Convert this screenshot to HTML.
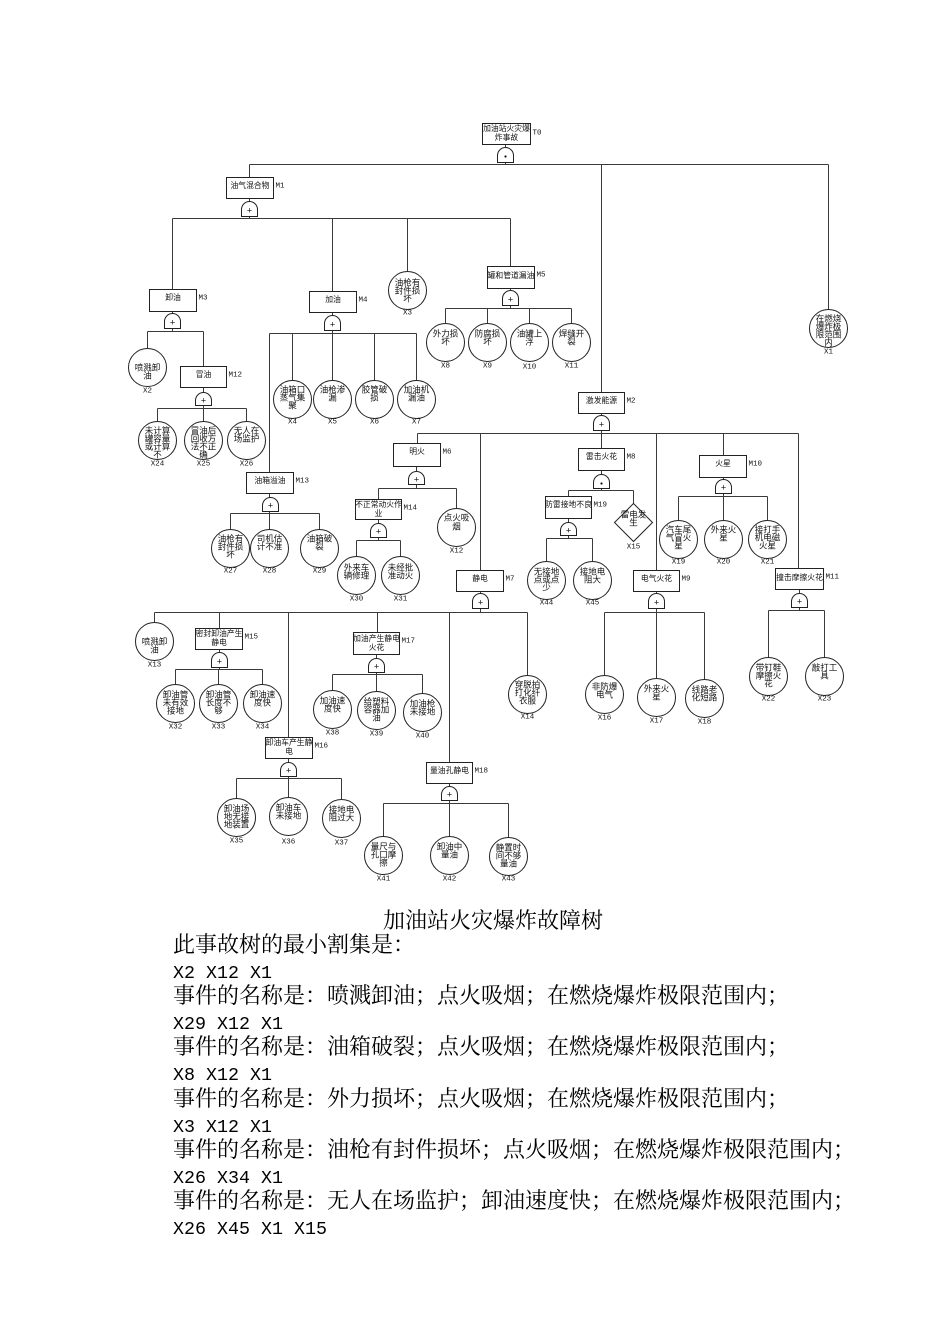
<!DOCTYPE html>
<html><head><meta charset="utf-8"><style>
html,body{margin:0;padding:0;background:#fff;}
body{width:950px;height:1344px;position:relative;overflow:hidden;}
svg{position:absolute;left:0;top:0;}
.l{fill:none;stroke:#3a3a3a;stroke-width:1;}
.n{fill:#fff;stroke:#222;stroke-width:1;}
.t{font-family:"Liberation Sans","Noto Sans CJK SC",sans-serif;font-size:7.8px;text-anchor:middle;dominant-baseline:central;fill:#111;}
.c{font-size:8.5px;}
.m{font-family:"Liberation Mono",monospace;font-size:7.5px;fill:#111;dominant-baseline:central;}
.x{text-anchor:middle;}
.g{font-family:"Liberation Sans",sans-serif;font-size:9px;text-anchor:middle;dominant-baseline:central;fill:#111;}
.b{font-family:"Liberation Serif","Noto Serif CJK SC",serif;font-size:22px;fill:#000;}
.bl{font-family:"Liberation Mono",monospace;font-size:18.3px;fill:#000;}
</style></head><body>
<svg width="950" height="1344" viewBox="0 0 950 1344">
<g transform="translate(0.5,0.5)">
<path class="l" d="M505 144V164 M249 164H828 M249 164V177 M601 164V392 M828 164V309
M249 198V218 M172 218H510 M172 218V289 M332 218V291 M407 218V271 M510 218V266
M172 311V331 M147 331H203 M147 331V348 M203 331V366
M203 387V408 M157 408H246 M157 408V421 M203 408V421 M246 408V421
M332 312V333 M269 333H416 M269 333V472 M292 333V380 M332 333V380 M374 333V380 M416 333V380
M269 493V513 M230 513H319 M230 513V529 M269 513V529 M319 513V529
M510 288V308 M445 308H571 M445 308V323 M487 308V323 M529 308V323 M571 308V323
M601 413V433 M417 433H798 M417 433V443 M480 433V570 M601 433V448 M656 433V570 M723 433V455 M798 433V568
M416 466V488 M378 488H456 M378 488V499 M456 488V508
M378 519V540 M356 540H400 M356 540V556 M400 540V556
M480 591V612 M154 612H527 M154 612V622 M219 612V628 M288 612V737 M377 612V632 M449 612V762 M527 612V675
M219 649V669 M175 669H262 M175 669V684 M218 669V684 M262 669V684
M288 758V778 M236 778H341 M236 778V798 M288 778V797 M341 778V799
M376 654V674 M332 674H422 M332 674V690 M376 674V691 M422 674V693
M449 783V803 M383 803H508 M383 803V836 M449 803V836 M508 803V837
M601 470V490 M568 490H633 M568 490V496 M633 490V503
M568 518V538 M546 538H592 M546 538V561 M592 538V561
M656 591V612 M604 612H704 M604 612V675 M656 612V678 M704 612V679
M723 477V496 M678 496H767 M678 496V520 M723 496V520 M767 496V520
M799 589V610 M768 610H824 M768 610V657 M824 610V657"/>

<!-- gates -->
<path class="n" d="M497 162V155A8 8 0 0 1 513 155V162Z"/><circle cx="505" cy="156" r="1.1" fill="#111"/>
<path class="n" d="M241 216V209A8 8 0 0 1 257 209V216Z"/><text class="g" x="249" y="210">+</text>
<path class="n" d="M164 328V321A8 8 0 0 1 180 321V328Z"/><text class="g" x="172" y="322">+</text>
<path class="n" d="M195 405V400A8 8 0 0 1 211 400V405Z"/><text class="g" x="203" y="400">+</text>
<path class="n" d="M324 330V323A8 8 0 0 1 340 323V330Z"/><text class="g" x="332" y="324">+</text>
<path class="n" d="M262 511V505A8 8 0 0 1 278 505V511Z"/><text class="g" x="270" y="505">+</text>
<path class="n" d="M502 305V298A8 8 0 0 1 518 298V305Z"/><text class="g" x="510" y="299">+</text>
<path class="n" d="M593 430V423A8 8 0 0 1 609 423V430Z"/><text class="g" x="601" y="424">+</text>
<path class="n" d="M408 484V479A8 8 0 0 1 424 479V484Z"/><text class="g" x="416" y="479">+</text>
<path class="n" d="M370 537V531A8 8 0 0 1 386 531V537Z"/><text class="g" x="378" y="531">+</text>
<path class="n" d="M472 608V601A8 8 0 0 1 488 601V608Z"/><text class="g" x="480" y="602">+</text>
<path class="n" d="M211 667V660A8 8 0 0 1 227 660V667Z"/><text class="g" x="219" y="661">+</text>
<path class="n" d="M280 776V770A8 8 0 0 1 296 770V776Z"/><text class="g" x="288" y="770">+</text>
<path class="n" d="M368 672V666A8 8 0 0 1 384 666V672Z"/><text class="g" x="376" y="666">+</text>
<path class="n" d="M441 800V794A8 8 0 0 1 457 794V800Z"/><text class="g" x="449" y="794">+</text>
<path class="n" d="M593 488V482A8 8 0 0 1 609 482V488Z"/><circle cx="601" cy="483" r="1.1" fill="#111"/>
<path class="n" d="M560 535V530A8 8 0 0 1 576 530V535Z"/><text class="g" x="568" y="530">+</text>
<path class="n" d="M648 608V601A8 8 0 0 1 664 601V608Z"/><text class="g" x="656" y="602">+</text>
<path class="n" d="M715 493V487A8 8 0 0 1 731 487V493Z"/><text class="g" x="723" y="487">+</text>
<path class="n" d="M791 607V601A8 8 0 0 1 807 601V607Z"/><text class="g" x="799" y="601">+</text>

<!-- boxes -->
<rect class="n" x="482" y="123" width="48" height="21"/><text class="t" x="506" y="128">加油站火灾爆</text><text class="t" x="506" y="137">炸事故</text><text class="m" x="532" y="133">T0</text>
<rect class="n" x="226" y="177" width="47" height="21"/><text class="t" x="249.5" y="185">油气混合物</text><text class="m" x="275" y="186">M1</text>
<rect class="n" x="149" y="289" width="47" height="22"/><text class="t" x="172.5" y="297">卸油</text><text class="m" x="198" y="298">M3</text>
<rect class="n" x="180" y="366" width="46" height="21"/><text class="t" x="203" y="374">冒油</text><text class="m" x="228" y="375">M12</text>
<rect class="n" x="309" y="291" width="47" height="21"/><text class="t" x="332.5" y="299">加油</text><text class="m" x="358" y="300">M4</text>
<rect class="n" x="246" y="472" width="47" height="21"/><text class="t" x="269.5" y="480">油箱溢油</text><text class="m" x="295" y="481">M13</text>
<rect class="n" x="487" y="266" width="47" height="22"/><text class="t" x="510.5" y="275">罐和管道漏油</text><text class="m" x="536" y="275">M5</text>
<rect class="n" x="578" y="392" width="46" height="21"/><text class="t" x="601" y="400">激发能源</text><text class="m" x="626" y="401">M2</text>
<rect class="n" x="393" y="443" width="47" height="23"/><text class="t" x="416.5" y="451">明火</text><text class="m" x="442" y="452">M6</text>
<rect class="n" x="355" y="499" width="46" height="20"/><text class="t" x="378" y="504">不正常动火作</text><text class="t" x="378" y="513">业</text><text class="m" x="403" y="508">M14</text>
<rect class="n" x="456" y="570" width="47" height="21"/><text class="t" x="479.5" y="578">静电</text><text class="m" x="505" y="579">M7</text>
<rect class="n" x="195" y="628" width="47" height="21"/><text class="t" x="218.5" y="633">密封卸油产生</text><text class="t" x="218.5" y="642">静电</text><text class="m" x="244" y="637">M15</text>
<rect class="n" x="265" y="737" width="47" height="21"/><text class="t" x="288.5" y="742">卸油车产生静</text><text class="t" x="288.5" y="751">电</text><text class="m" x="314" y="746">M16</text>
<rect class="n" x="353" y="632" width="46" height="22"/><text class="t" x="376" y="638">加油产生静电</text><text class="t" x="376" y="647">火花</text><text class="m" x="401" y="641">M17</text>
<rect class="n" x="426" y="762" width="46" height="21"/><text class="t" x="449" y="770">量油孔静电</text><text class="m" x="474" y="771">M18</text>
<rect class="n" x="578" y="448" width="46" height="22"/><text class="t" x="601" y="456">雷击火花</text><text class="m" x="626" y="457">M8</text>
<rect class="n" x="545" y="496" width="46" height="22"/><text class="t" x="568" y="504">防雷接地不良</text><text class="m" x="593" y="505">M19</text>
<rect class="n" x="633" y="570" width="46" height="21"/><text class="t" x="656" y="578">电气火花</text><text class="m" x="681" y="579">M9</text>
<rect class="n" x="699" y="455" width="47" height="22"/><text class="t" x="722.5" y="463">火星</text><text class="m" x="748" y="464">M10</text>
<rect class="n" x="775" y="568" width="48" height="21"/><text class="t" x="799" y="577">撞击摩擦火花</text><text class="m" x="825" y="577">M11</text>

<!-- diamond X15 -->
<polygon class="n" points="633,503 652,522 633,541 614,522"/>
<text class="t c" x="633" y="514">雷电发</text><text class="t c" x="633" y="522">生</text>
<text class="m x" x="633" y="547">X15</text>

<!-- circles -->
<circle class="n" cx="828" cy="328" r="19"/><text class="t c" x="828" y="318">在燃烧</text><text class="t c" x="828" y="326">爆炸极</text><text class="t c" x="828" y="334">限范围</text><text class="t c" x="828" y="342">内</text><text class="m x" x="828" y="352">X1</text>

<circle class="n" cx="147" cy="367" r="19"/><text class="t c" x="147" y="367">喷溅卸</text><text class="t c" x="147" y="375">油</text><text class="m x" x="147" y="391">X2</text>

<circle class="n" cx="157" cy="440" r="19"/><text class="t c" x="157" y="430">未计算</text><text class="t c" x="157" y="438">罐容量</text><text class="t c" x="157" y="446">或计算</text><text class="t c" x="157" y="454">不</text><text class="m x" x="157" y="464">X24</text>
<circle class="n" cx="203" cy="440" r="19"/><text class="t c" x="203" y="430">冒油后</text><text class="t c" x="203" y="438">回收方</text><text class="t c" x="203" y="446">法不正</text><text class="t c" x="203" y="454">确</text><text class="m x" x="203" y="464">X25</text>
<circle class="n" cx="246" cy="440" r="19"/><text class="t c" x="246" y="430">无人在</text><text class="t c" x="246" y="438">场监护</text><text class="m x" x="246" y="464">X26</text>

<circle class="n" cx="292" cy="399" r="19"/><text class="t c" x="292" y="389">油箱口</text><text class="t c" x="292" y="397">蒸气集</text><text class="t c" x="292" y="405">聚</text><text class="m x" x="292" y="422">X4</text>
<circle class="n" cx="332" cy="399" r="19"/><text class="t c" x="332" y="389">油枪渗</text><text class="t c" x="332" y="397">漏</text><text class="m x" x="332" y="422">X5</text>
<circle class="n" cx="374" cy="399" r="19"/><text class="t c" x="374" y="389">胶管破</text><text class="t c" x="374" y="397">损</text><text class="m x" x="374" y="422">X6</text>
<circle class="n" cx="416" cy="399" r="19"/><text class="t c" x="416" y="389">加油机</text><text class="t c" x="416" y="397">漏油</text><text class="m x" x="416" y="422">X7</text>

<circle class="n" cx="230" cy="548" r="19"/><text class="t c" x="230" y="538">油枪有</text><text class="t c" x="230" y="546">封件损</text><text class="t c" x="230" y="554">坏</text><text class="m x" x="230" y="571">X27</text>
<circle class="n" cx="269" cy="548" r="19"/><text class="t c" x="269" y="538">司机估</text><text class="t c" x="269" y="546">计不准</text><text class="m x" x="269" y="571">X28</text>
<circle class="n" cx="319" cy="548" r="19"/><text class="t c" x="319" y="538">油箱破</text><text class="t c" x="319" y="546">裂</text><text class="m x" x="319" y="571">X29</text>

<circle class="n" cx="407" cy="290" r="19"/><text class="t c" x="407" y="282">油枪有</text><text class="t c" x="407" y="290">封件损</text><text class="t c" x="407" y="298">坏</text><text class="m x" x="407" y="313">X3</text>

<circle class="n" cx="445" cy="342" r="19"/><text class="t c" x="445" y="333">外力损</text><text class="t c" x="445" y="341">坏</text><text class="m x" x="445" y="366">X8</text>
<circle class="n" cx="487" cy="342" r="19"/><text class="t c" x="487" y="333">防腐损</text><text class="t c" x="487" y="341">坏</text><text class="m x" x="487" y="366">X9</text>
<circle class="n" cx="529" cy="342" r="19"/><text class="t c" x="529" y="333">油罐上</text><text class="t c" x="529" y="341">浮</text><text class="m x" x="529" y="367">X10</text>
<circle class="n" cx="571" cy="342" r="19"/><text class="t c" x="571" y="333">焊缝开</text><text class="t c" x="571" y="341">裂</text><text class="m x" x="571" y="366">X11</text>

<circle class="n" cx="456" cy="527" r="19"/><text class="t c" x="456" y="517">点火吸</text><text class="t c" x="456" y="526">烟</text><text class="m x" x="456" y="551">X12</text>
<circle class="n" cx="356" cy="575" r="19"/><text class="t c" x="356" y="567">外来车</text><text class="t c" x="356" y="575">辆修理</text><text class="m x" x="356" y="599">X30</text>
<circle class="n" cx="400" cy="575" r="19"/><text class="t c" x="400" y="567">未经批</text><text class="t c" x="400" y="575">准动火</text><text class="m x" x="400" y="599">X31</text>

<circle class="n" cx="154" cy="641" r="19"/><text class="t c" x="154" y="641">喷溅卸</text><text class="t c" x="154" y="649">油</text><text class="m x" x="154" y="665">X13</text>

<circle class="n" cx="175" cy="703" r="19"/><text class="t c" x="175" y="694">卸油管</text><text class="t c" x="175" y="702">未有效</text><text class="t c" x="175" y="710">接地</text><text class="m x" x="175" y="727">X32</text>
<circle class="n" cx="218" cy="703" r="19"/><text class="t c" x="218" y="694">卸油管</text><text class="t c" x="218" y="702">长度不</text><text class="t c" x="218" y="710">够</text><text class="m x" x="218" y="727">X33</text>
<circle class="n" cx="262" cy="703" r="19"/><text class="t c" x="262" y="694">卸油速</text><text class="t c" x="262" y="702">度快</text><text class="m x" x="262" y="727">X34</text>

<circle class="n" cx="236" cy="817" r="19"/><text class="t c" x="236" y="808">卸油场</text><text class="t c" x="236" y="816">地无接</text><text class="t c" x="236" y="824">地装置</text><text class="m x" x="236" y="841">X35</text>
<circle class="n" cx="288" cy="816" r="19"/><text class="t c" x="288" y="807">卸油车</text><text class="t c" x="288" y="815">未接地</text><text class="m x" x="288" y="842">X36</text>
<circle class="n" cx="341" cy="818" r="19"/><text class="t c" x="341" y="809">接地电</text><text class="t c" x="341" y="817">阻过大</text><text class="m x" x="341" y="843">X37</text>

<circle class="n" cx="332" cy="709" r="19"/><text class="t c" x="332" y="700">加油速</text><text class="t c" x="332" y="708">度快</text><text class="m x" x="332" y="733">X38</text>
<circle class="n" cx="376" cy="710" r="19"/><text class="t c" x="376" y="701">给塑料</text><text class="t c" x="376" y="709">容器加</text><text class="t c" x="376" y="717">油</text><text class="m x" x="376" y="734">X39</text>
<circle class="n" cx="422" cy="712" r="19"/><text class="t c" x="422" y="703">加油枪</text><text class="t c" x="422" y="711">未接地</text><text class="m x" x="422" y="736">X40</text>

<circle class="n" cx="383" cy="855" r="19"/><text class="t c" x="383" y="846">量尺与</text><text class="t c" x="383" y="854">孔口摩</text><text class="t c" x="383" y="862">擦</text><text class="m x" x="383" y="879">X41</text>
<circle class="n" cx="449" cy="855" r="19"/><text class="t c" x="449" y="846">卸油中</text><text class="t c" x="449" y="854">量油</text><text class="m x" x="449" y="879">X42</text>
<circle class="n" cx="508" cy="856" r="19"/><text class="t c" x="508" y="847">静置时</text><text class="t c" x="508" y="855">间不够</text><text class="t c" x="508" y="863">量油</text><text class="m x" x="508" y="879">X43</text>

<circle class="n" cx="527" cy="694" r="19"/><text class="t c" x="527" y="684">穿脱拍</text><text class="t c" x="527" y="692">打化纤</text><text class="t c" x="527" y="700">衣服</text><text class="m x" x="527" y="717">X14</text>

<circle class="n" cx="546" cy="580" r="19"/><text class="t c" x="546" y="571">无接地</text><text class="t c" x="546" y="579">点或点</text><text class="t c" x="546" y="587">少</text><text class="m x" x="546" y="603">X44</text>
<circle class="n" cx="592" cy="580" r="19"/><text class="t c" x="592" y="571">接地电</text><text class="t c" x="592" y="579">阻大</text><text class="m x" x="592" y="603">X45</text>

<circle class="n" cx="604" cy="694" r="19"/><text class="t c" x="604" y="686">非防爆</text><text class="t c" x="604" y="694">电气</text><text class="m x" x="604" y="718">X16</text>
<circle class="n" cx="656" cy="697" r="19"/><text class="t c" x="656" y="688">外来火</text><text class="t c" x="656" y="696">星</text><text class="m x" x="656" y="721">X17</text>
<circle class="n" cx="704" cy="698" r="19"/><text class="t c" x="704" y="689">线路老</text><text class="t c" x="704" y="697">化短路</text><text class="m x" x="704" y="722">X18</text>

<circle class="n" cx="678" cy="539" r="19"/><text class="t c" x="678" y="529">汽车尾</text><text class="t c" x="678" y="537">气冒火</text><text class="t c" x="678" y="545">星</text><text class="m x" x="678" y="562">X19</text>
<circle class="n" cx="723" cy="539" r="19"/><text class="t c" x="723" y="529">外来火</text><text class="t c" x="723" y="537">星</text><text class="m x" x="723" y="562">X20</text>
<circle class="n" cx="767" cy="539" r="19"/><text class="t c" x="767" y="529">接打手</text><text class="t c" x="767" y="537">机电磁</text><text class="t c" x="767" y="545">火星</text><text class="m x" x="767" y="562">X21</text>

<circle class="n" cx="768" cy="676" r="19"/><text class="t c" x="768" y="667">带钉鞋</text><text class="t c" x="768" y="675">摩擦火</text><text class="t c" x="768" y="683">花</text><text class="m x" x="768" y="699">X22</text>
<circle class="n" cx="824" cy="676" r="19"/><text class="t c" x="824" y="667">敲打工</text><text class="t c" x="824" y="675">具</text><text class="m x" x="824" y="699">X23</text>
</g>

<!-- bottom text -->
<text class="b" x="383" y="928" textLength="220" lengthAdjust="spacing">加油站火灾爆炸故障树</text>
<text class="b" x="173" y="952" textLength="242" lengthAdjust="spacing">此事故树的最小割集是：</text>
<text class="bl" x="173" y="978" textLength="99" lengthAdjust="spacingAndGlyphs">X2 X12 X1</text>
<text class="b" x="173" y="1003" textLength="616" lengthAdjust="spacing">事件的名称是：喷溅卸油；点火吸烟；在燃烧爆炸极限范围内；</text>
<text class="bl" x="173" y="1029" textLength="110" lengthAdjust="spacingAndGlyphs">X29 X12 X1</text>
<text class="b" x="173" y="1054" textLength="616" lengthAdjust="spacing">事件的名称是：油箱破裂；点火吸烟；在燃烧爆炸极限范围内；</text>
<text class="bl" x="173" y="1080" textLength="99" lengthAdjust="spacingAndGlyphs">X8 X12 X1</text>
<text class="b" x="173" y="1106" textLength="616" lengthAdjust="spacing">事件的名称是：外力损坏；点火吸烟；在燃烧爆炸极限范围内；</text>
<text class="bl" x="173" y="1132" textLength="99" lengthAdjust="spacingAndGlyphs">X3 X12 X1</text>
<text class="b" x="173" y="1157" textLength="682" lengthAdjust="spacing">事件的名称是：油枪有封件损坏；点火吸烟；在燃烧爆炸极限范围内；</text>
<text class="bl" x="173" y="1183" textLength="110" lengthAdjust="spacingAndGlyphs">X26 X34 X1</text>
<text class="b" x="173" y="1208" textLength="682" lengthAdjust="spacing">事件的名称是：无人在场监护；卸油速度快；在燃烧爆炸极限范围内；</text>
<text class="bl" x="173" y="1234" textLength="154" lengthAdjust="spacingAndGlyphs">X26 X45 X1 X15</text>
</svg>
</body></html>
